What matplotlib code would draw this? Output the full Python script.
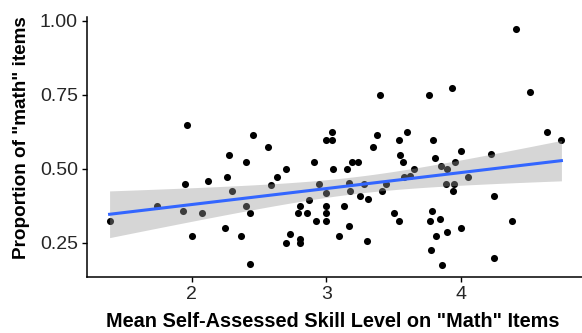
import numpy as np
import matplotlib.pyplot as plt

plt.rcParams['font.family'] = ['Liberation Sans', 'DejaVu Sans']

# mean self-assessed skill (x) and proportion of "math" items (y)
skill = [1.389, 1.738, 1.963, 1.948, 1.933, 2.002, 2.074, 2.119, 2.250, 2.265,
         2.275, 2.297, 2.366, 2.401, 2.401, 2.431, 2.431, 2.458, 2.567, 2.589,
         2.633, 2.703, 2.700, 2.730, 2.802, 2.802, 2.802, 2.787, 2.869, 2.859,
         2.906, 2.926, 2.950, 3.002, 3.042, 3.042, 3.052, 3.002, 3.002, 3.002,
         3.002, 3.094, 3.134, 3.168, 3.178, 3.168, 3.151, 3.193, 3.240, 3.250,
         3.280, 3.314, 3.302, 3.349, 3.376, 3.401, 3.413, 3.445, 3.502, 3.542,
         3.544, 3.546, 3.574, 3.601, 3.581, 3.621, 3.651, 3.767, 3.769, 3.782,
         3.789, 3.794, 3.811, 3.819, 3.849, 3.851, 3.858, 3.898, 3.891, 3.901,
         3.938, 3.943, 3.948, 3.955, 4.000, 4.000, 4.057, 4.227, 4.249, 4.249,
         4.383, 4.410, 4.517, 4.641, 4.749]
prop = [0.324, 0.375, 0.649, 0.449, 0.358, 0.275, 0.350, 0.458, 0.300, 0.474,
        0.548, 0.425, 0.275, 0.525, 0.375, 0.350, 0.179, 0.614, 0.574, 0.446,
        0.474, 0.499, 0.249, 0.281, 0.262, 0.251, 0.375, 0.350, 0.394, 0.350,
        0.525, 0.325, 0.449, 0.599, 0.624, 0.599, 0.499, 0.418, 0.375, 0.350,
        0.325, 0.275, 0.375, 0.452, 0.425, 0.307, 0.499, 0.524, 0.524, 0.410,
        0.449, 0.399, 0.257, 0.574, 0.614, 0.748, 0.425, 0.449, 0.350, 0.325,
        0.599, 0.548, 0.524, 0.624, 0.474, 0.476, 0.499, 0.748, 0.325, 0.225,
        0.358, 0.599, 0.538, 0.275, 0.332, 0.511, 0.175, 0.499, 0.449, 0.286,
        0.774, 0.425, 0.449, 0.524, 0.562, 0.300, 0.474, 0.550, 0.410, 0.199,
        0.324, 0.973, 0.761, 0.624, 0.599]

x = np.array(skill)
y = np.array(prop)

# linear fit with 95% confidence band (like geom_smooth(method="lm"))
n = len(x)
b1, b0 = np.polyfit(x, y, 1)
resid = y - (b0 + b1 * x)
s = np.sqrt(np.sum(resid ** 2) / (n - 2))
xs = np.linspace(x.min(), x.max(), 80)
fit = b0 + b1 * xs
se = s * np.sqrt(1 / n + (xs - x.mean()) ** 2 / np.sum((x - x.mean()) ** 2))
tval = 1.986
lo, hi = fit - tval * se, fit + tval * se

fig = plt.figure(figsize=(5.82, 3.33), dpi=100)
ax = fig.add_axes([87 / 582, 1 - 277 / 333, 497 / 582, 260 / 333])

ax.scatter(x, y, s=26, color='black', linewidths=0, zorder=2)
ax.fill_between(xs, lo, hi, color='#999999', alpha=0.4, linewidth=0, zorder=3)
ax.plot(xs, fit, color='#3366FF', linewidth=2.2, zorder=4)

ax.margins(x=0.05, y=0.05)
ax.set_xticks([2, 3, 4])
ax.set_yticks([0.25, 0.50, 0.75, 1.00])
ax.set_yticklabels(['0.25', '0.50', '0.75', '1.00'])

for side in ['top', 'right']:
    ax.spines[side].set_visible(False)
for side in ['left', 'bottom']:
    ax.spines[side].set_linewidth(1.1)
    ax.spines[side].set_color('black')
ax.tick_params(axis='both', length=3.5, width=1.0, color='black',
               labelsize=14, labelcolor='#262626', pad=3)

ax.set_xlabel('Mean Self-Assessed Skill Level on "Math" Items',
              fontsize=14.3, fontweight='bold')
ax.set_ylabel('Proportion of "math" items', fontsize=13.6,
              fontweight='bold')
ax.xaxis.set_label_coords(0.5 - 3 / 497, -35 / 260)
ax.yaxis.set_label_coords(-57 / 497, (277 - 138) / 260)

fig.savefig('out.png', dpi=100)
